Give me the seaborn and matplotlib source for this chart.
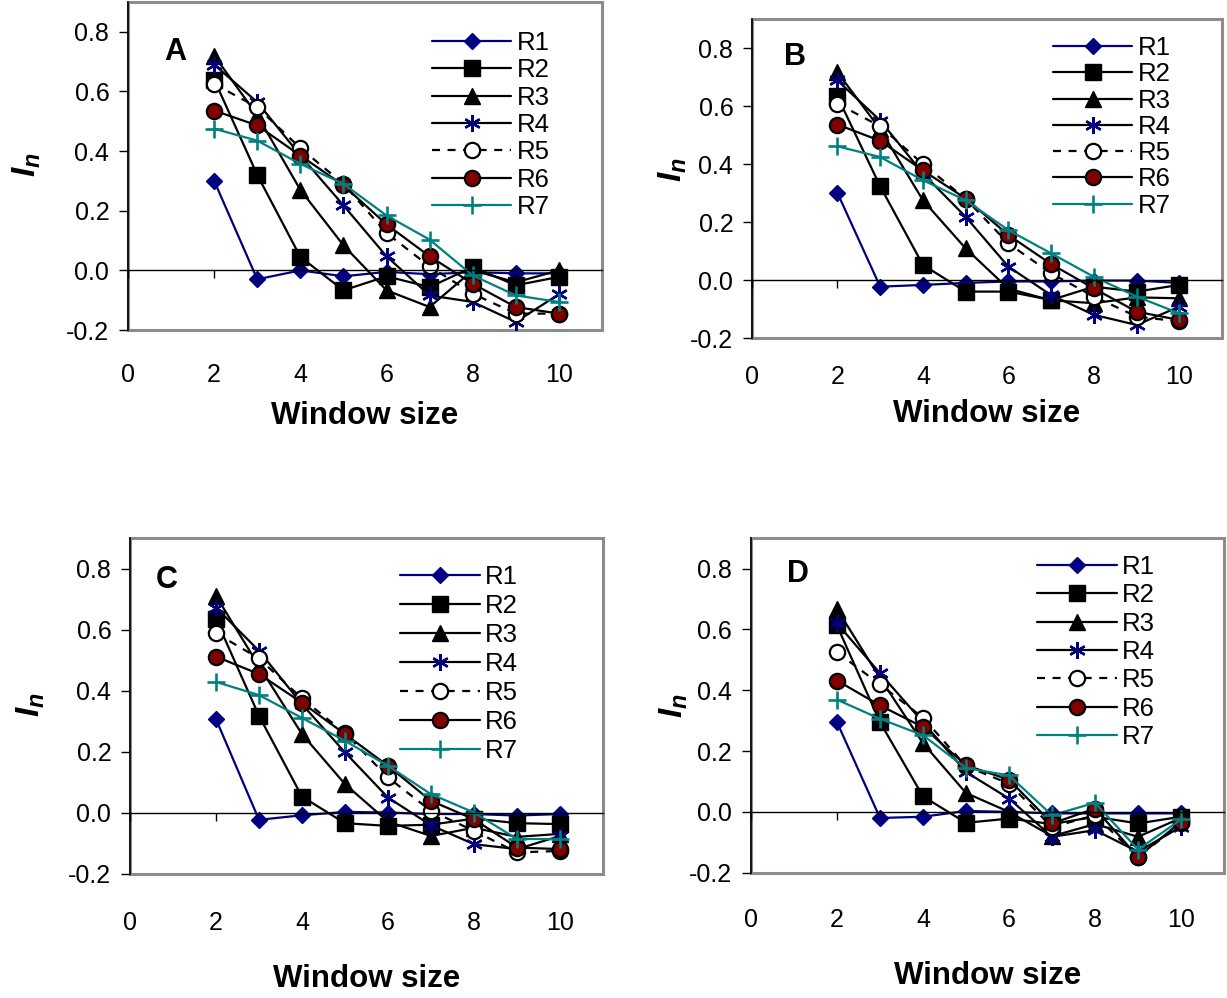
import matplotlib
matplotlib.use("Agg")
import matplotlib.pyplot as plt
import seaborn as sns
import numpy as np
import pandas as pd
from matplotlib.patches import Rectangle
from matplotlib.ticker import FormatStrFormatter

# ---------------- data ----------------
window = [2, 3, 4, 5, 6, 7, 8, 9, 10]
series_names = ["R1", "R2", "R3", "R4", "R5", "R6", "R7"]
panel_letters = ["A", "B", "C", "D"]
x_ticks = [0, 2, 4, 6, 8, 10]
y_ticks = [-0.2, 0.0, 0.2, 0.4, 0.6, 0.8]

a_r1 = [0.30, -0.03, 0.00, -0.02, -0.005, -0.013, -0.006, -0.01, -0.01]
a_r2 = [0.64, 0.32, 0.045, -0.067, -0.02, -0.056, 0.011, -0.05, -0.022]
a_r3 = [0.72, 0.52, 0.27, 0.084, -0.067, -0.123, 0.0, -0.04, 0.0]
a_r4 = [0.69, 0.564, 0.385, 0.218, 0.047, -0.084, -0.106, -0.173, -0.08]
a_r5 = [0.625, 0.547, 0.41, 0.29, 0.125, 0.013, -0.078, -0.145, -0.145]
a_r6 = [0.536, 0.486, 0.385, 0.285, 0.154, 0.047, -0.045, -0.123, -0.145]
a_r7 = [0.475, 0.435, 0.357, 0.29, 0.184, 0.103, -0.017, -0.084, -0.106]

b_r1 = [0.30, -0.023, -0.017, -0.01, -0.005, -0.005, -0.002, -0.002, -0.01]
b_r2 = [0.633, 0.323, 0.052, -0.04, -0.04, -0.069, -0.023, -0.04, -0.017]
b_r3 = [0.716, 0.52, 0.275, 0.109, -0.03, -0.07, -0.08, -0.06, -0.063]
b_r4 = [0.688, 0.55, 0.367, 0.218, 0.046, -0.052, -0.12, -0.155, -0.092]
b_r5 = [0.608, 0.53, 0.40, 0.28, 0.126, 0.023, -0.057, -0.126, -0.143]
b_r6 = [0.536, 0.48, 0.378, 0.281, 0.155, 0.055, -0.029, -0.109, -0.138]
b_r7 = [0.461, 0.424, 0.344, 0.275, 0.172, 0.092, 0.011, -0.057, -0.115]

c_r1 = [0.306, -0.024, -0.009, 0.002, 0.0, -0.005, -0.005, -0.01, -0.005]
c_r2 = [0.634, 0.317, 0.052, -0.035, -0.044, -0.04, -0.02, -0.035, -0.038]
c_r3 = [0.71, 0.48, 0.257, 0.093, -0.03, -0.077, -0.05, -0.08, -0.07]
c_r4 = [0.672, 0.53, 0.355, 0.197, 0.049, -0.042, -0.104, -0.12, -0.077]
c_r5 = [0.588, 0.505, 0.374, 0.26, 0.115, 0.005, -0.06, -0.131, -0.126]
c_r6 = [0.511, 0.454, 0.36, 0.257, 0.153, 0.038, -0.022, -0.115, -0.12]
c_r7 = [0.428, 0.385, 0.31, 0.235, 0.153, 0.06, 0.0, -0.087, -0.087]

d_r1 = [0.295, -0.02, -0.016, 0.003, 0.0, -0.005, -0.005, -0.005, -0.005]
d_r2 = [0.613, 0.295, 0.051, -0.036, -0.022, -0.04, -0.016, -0.038, -0.016]
d_r3 = [0.667, 0.44, 0.226, 0.062, 0.0, -0.08, -0.04, -0.082, -0.02]
d_r4 = [0.62, 0.456, 0.295, 0.131, 0.044, -0.082, -0.06, -0.131, -0.049]
d_r5 = [0.525, 0.419, 0.31, 0.15, 0.093, -0.05, -0.011, -0.148, -0.038]
d_r6 = [0.432, 0.35, 0.279, 0.153, 0.106, -0.038, 0.011, -0.148, -0.033]
d_r7 = [0.369, 0.306, 0.252, 0.144, 0.12, -0.011, 0.03, -0.124, -0.025]

panels = {
    "A": [a_r1, a_r2, a_r3, a_r4, a_r5, a_r6, a_r7],
    "B": [b_r1, b_r2, b_r3, b_r4, b_r5, b_r6, b_r7],
    "C": [c_r1, c_r2, c_r3, c_r4, c_r5, c_r6, c_r7],
    "D": [d_r1, d_r2, d_r3, d_r4, d_r5, d_r6, d_r7],
}

# ---------------- styles ----------------
NAVY, DARKRED, TEAL, FRAME = "#000080", "#800000", "#008080", "#8c8c8c"
styles = {
    "R1": dict(color=NAVY, marker="D", markersize=8.5, markerfacecolor=NAVY, markeredgecolor=NAVY, markeredgewidth=1),
    "R2": dict(color="black", marker="s", markersize=11.5, markerfacecolor="black", markeredgecolor="black", markeredgewidth=1),
    "R3": dict(color="black", marker="^", markersize=12, markerfacecolor="black", markeredgecolor="black", markeredgewidth=1),
    "R4": dict(color="black", marker=(6, 2, 0), markersize=12, markerfacecolor=NAVY, markeredgecolor=NAVY, markeredgewidth=1.7),
    "R5": dict(color="black", marker="o", markersize=11, markerfacecolor="white", markeredgecolor="black", markeredgewidth=1.6,
               linestyle=(0, (3.6, 3.4))),
    "R6": dict(color="black", marker="o", markersize=11, markerfacecolor=DARKRED, markeredgecolor="black", markeredgewidth=1.6),
    "R7": dict(color=TEAL, marker="+", markersize=13, markerfacecolor=TEAL, markeredgecolor=TEAL, markeredgewidth=1.9),
}

# ---------------- layout (figure fractions) ----------------
W, H = 1227, 998
ax_rects = {
    "A": [128 / W, 1 - 330 / H, 474 / W, 328 / H],
    "B": [752 / W, 1 - 338 / H, 470 / W, 319 / H],
    "C": [130 / W, 1 - 873.5 / H, 473 / W, 335.5 / H],
    "D": [751 / W, 1 - 872.7 / H, 473 / W, 334.5 / H],
}
xtick_pad = {"A": 24, "B": 19.5, "C": 27, "D": 25.5}
xlabel_pad = {"A": 9.5, "B": 7.5, "C": 21, "D": 21}
ylabel_x = {"A": -0.18, "B": -0.135, "C": -0.175, "D": -0.13}
ylabel_y = {"A": 0.503, "B": 0.527, "C": 0.502, "D": 0.50}
letter_pos = {"A": (0.099, 0.848), "B": (0.091, 0.881), "C": (0.078, 0.875), "D": (0.099, 0.893)}
legend_anchor = {"A": (0.641, 0.912), "B": (0.64, 0.947), "C": (0.571, 0.92), "D": (0.605, 0.95)}
legend_spacing = {"A": 0.13, "B": 0.09, "C": 0.195, "D": 0.17}

sns.set_theme(style="white")
plt.rcParams["font.family"] = ["Liberation Sans", "DejaVu Sans"]
plt.rcParams["axes.unicode_minus"] = False
plt.rcParams["mathtext.fontset"] = "custom"
plt.rcParams["mathtext.it"] = "Liberation Sans:italic:bold"
plt.rcParams["mathtext.rm"] = "Liberation Sans:bold"
for key in ["text.color", "axes.labelcolor", "xtick.color", "ytick.color",
            "xtick.labelcolor", "ytick.labelcolor"]:
    plt.rcParams[key] = "black"

fig = plt.figure(figsize=(W / 100, H / 100), dpi=100)

for letter in panel_letters:
    ax = fig.add_axes(ax_rects[letter])
    values = panels[letter]
    for name, vals in zip(series_names, values):
        df = pd.DataFrame({"window": window, "value": vals})
        sns.lineplot(data=df, x="window", y="value", ax=ax, label=name,
                     linewidth=1.6, clip_on=False, **styles[name])

    ax.set_xlim(0, 11)
    ax.set_ylim(-0.2, 0.9)
    ax.set_xticks(x_ticks)
    ax.set_yticks(y_ticks)
    ax.yaxis.set_major_formatter(FormatStrFormatter("%.1f"))

    # axis through zero with ticks hanging down
    for s in ["top", "right"]:
        ax.spines[s].set_visible(False)
    ax.spines["bottom"].set_position(("data", 0))
    ax.spines["bottom"].set_color("black")
    ax.spines["bottom"].set_linewidth(1.0)
    ax.spines["left"].set_color("black")
    ax.spines["left"].set_linewidth(1.2)
    ax.tick_params(axis="x", direction="out", length=6, width=1, color="black",
                   labelbottom=False, bottom=True)
    ax.tick_params(axis="y", direction="out", length=6.5, width=1, color="black",
                   labelsize=18, pad=7, left=True, labelcolor="black")
    ax.add_patch(Rectangle((0, 0), 1, 1, transform=ax.transAxes, fill=False,
                           edgecolor=FRAME, linewidth=2.2, clip_on=False, zorder=0.5))

    # tick labels below the plot area
    sec = ax.secondary_xaxis(0)
    sec.set_xticks(x_ticks)
    sec.tick_params(axis="x", length=0, pad=xtick_pad[letter], labelsize=18, labelcolor="black")
    sec.spines["bottom"].set_visible(False)
    sec.set_xlabel("Window size", fontsize=22.5, fontweight="bold", labelpad=xlabel_pad[letter],
                   color="black")

    ax.set_xlabel("")
    ax.set_ylabel("$I_n$", fontsize=24, fontweight="bold", color="black")
    ax.yaxis.set_label_coords(ylabel_x[letter], ylabel_y[letter])

    ax.text(*letter_pos[letter], letter, transform=ax.transAxes, fontsize=22,
            fontweight="bold", ha="center", va="center", color="black")

    leg = ax.legend(loc="upper left", bbox_to_anchor=legend_anchor[letter], frameon=False,
                    fontsize=18.5, handlelength=3.1, handletextpad=0.2,
                    labelspacing=legend_spacing[letter], borderpad=0, borderaxespad=0)
    for t in leg.get_texts():
        t.set_color("black")

fig.savefig("out.png", dpi=100)
